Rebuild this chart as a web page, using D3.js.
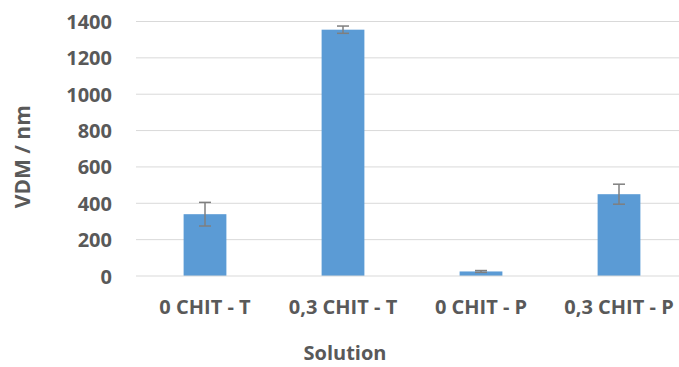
<!DOCTYPE html>
<html>
<head>
<meta charset="utf-8">
<script src="https://cdn.jsdelivr.net/npm/d3@7"></script>
<style>
  html, body { margin: 0; padding: 0; background: #fff; }
  svg text { font-family: "Open Sans", "Noto Sans", sans-serif; font-weight: 700; fill: #595959; }
</style>
</head>
<body>
<svg id="chart" width="679" height="367"></svg>
<script>
// Mean VDM per solution, with error bar half-widths
const categories = ["0 CHIT - T", "0,3 CHIT - T", "0 CHIT - P", "0,3 CHIT - P"];
const values = [340, 1355, 25, 450];
const errors = [65, 20, 5, 55];
const yTicks = [0, 200, 400, 600, 800, 1000, 1200, 1400];

const svg = d3.select("#chart");
const plot = { left: 136, right: 688, top: 21.5, bottom: 276 };

const x = d3.scaleBand()
  .domain(categories)
  .range([plot.left, plot.right])
  .paddingInner(0.69)
  .paddingOuter(0.345);

const y = d3.scaleLinear()
  .domain([0, 1400])
  .range([plot.bottom, plot.top]);

// Horizontal gridlines
svg.append("g")
  .selectAll("line")
  .data(yTicks.filter(d => d > 0))
  .join("line")
  .attr("x1", plot.left).attr("x2", 679)
  .attr("y1", d => y(d)).attr("y2", d => y(d))
  .attr("stroke", "#d9d9d9").attr("stroke-width", 1);

// Y axis labels
const yAxis = svg.append("g")
  .attr("transform", `translate(${plot.left - 24},0)`)
  .call(d3.axisLeft(y).tickValues(yTicks).tickFormat(d3.format("d")).tickSize(0).tickPadding(0));
yAxis.select(".domain").remove();
yAxis.selectAll("text").style("font-size", "20px").attr("dy", "0.35em").attr("fill", "#595959");

// Bars
svg.append("g")
  .selectAll("rect")
  .data(categories)
  .join("rect")
  .attr("x", d => x(d))
  .attr("width", x.bandwidth())
  .attr("y", (d, i) => y(values[i]))
  .attr("height", (d, i) => y(0) - y(values[i]))
  .attr("fill", "#5b9bd5");

// Baseline
svg.append("line")
  .attr("x1", plot.left).attr("x2", 679)
  .attr("y1", y(0)).attr("y2", y(0))
  .attr("stroke", "#d9d9d9").attr("stroke-width", 1);

// Error bars
const eb = svg.append("g").attr("stroke", "#7f7f7f").attr("stroke-width", 1.5);
categories.forEach((c, i) => {
  const cx = x(c) + x.bandwidth() / 2;
  const hi = y(values[i] + errors[i]);
  const lo = y(values[i] - errors[i]);
  eb.append("line").attr("x1", cx).attr("x2", cx).attr("y1", hi).attr("y2", lo);
  eb.append("line").attr("x1", cx - 6).attr("x2", cx + 6).attr("y1", hi).attr("y2", hi);
  eb.append("line").attr("x1", cx - 6).attr("x2", cx + 6).attr("y1", lo).attr("y2", lo);
});

// X axis labels
const xAxis = svg.append("g")
  .attr("transform", `translate(0,${plot.bottom + 31})`)
  .call(d3.axisBottom(x).tickSize(0).tickPadding(0));
xAxis.select(".domain").remove();
xAxis.selectAll("text").style("font-size", "20px").attr("dy", "0.35em").attr("fill", "#595959");

// Axis titles
svg.append("text")
  .attr("x", 345).attr("y", 360)
  .attr("text-anchor", "middle")
  .style("font-size", "20px")
  .text("Solution");

svg.append("text")
  .attr("transform", `translate(30,${(plot.top + plot.bottom) / 2 + 8}) rotate(-90)`)
  .attr("text-anchor", "middle")
  .style("font-size", "21px")
  .text("VDM / nm");
</script>
</body>
</html>
